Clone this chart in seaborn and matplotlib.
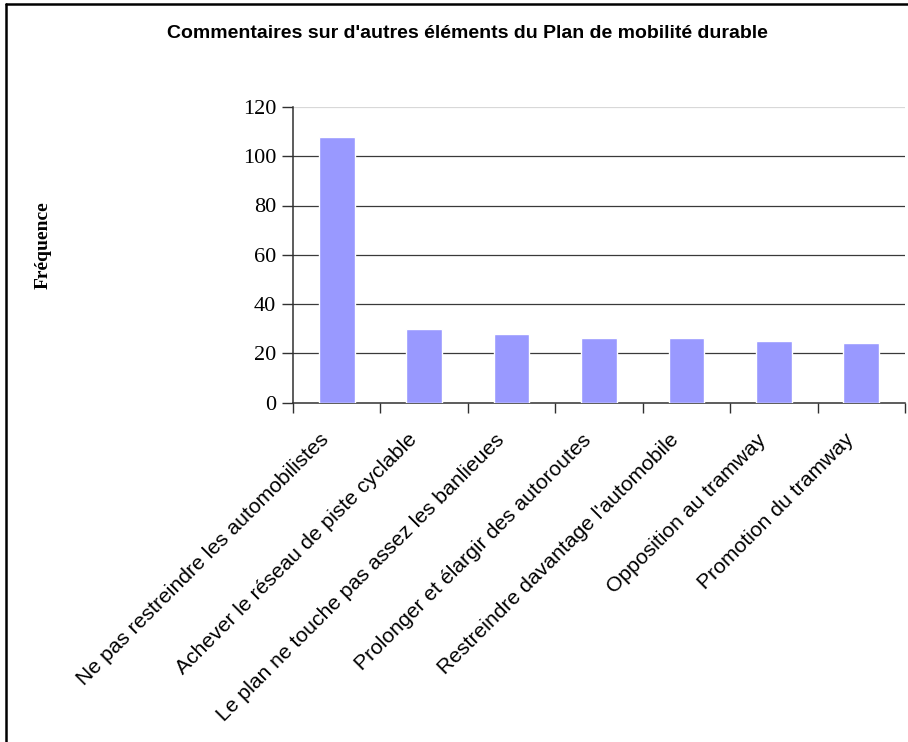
import matplotlib
matplotlib.use("Agg")
import matplotlib.pyplot as plt
from matplotlib.lines import Line2D
import seaborn as sns
import pandas as pd

# Categories of comments and how often each one came up
categories = [
    "Ne pas restreindre les automobilistes",
    "Achever le réseau de piste cyclable",
    "Le plan ne touche pas assez les banlieues",
    "Prolonger et élargir des autoroutes",
    "Restreindre davantage l'automobile",
    "Opposition au tramway",
    "Promotion du tramway",
]
frequencies = [108, 30, 28, 26, 26, 25, 24]
y_ticks = [0, 20, 40, 60, 80, 100, 120]

title = "Commentaires sur d'autres éléments du Plan de mobilité durable"
y_label = "Fréquence"

df = pd.DataFrame({"categorie": categories, "frequence": frequencies})

sns.set_theme(style="white")
plt.rcParams["font.family"] = ["Liberation Sans", "DejaVu Sans"]
plt.rcParams["text.color"] = "black"
plt.rcParams["ytick.color"] = "black"
plt.rcParams["xtick.color"] = "black"

W, H = 908, 742
fig = plt.figure(figsize=(W / 100, H / 100), dpi=100)
fig.patch.set_facecolor("white")

ax = fig.add_axes([293 / W, 1 - 402.5 / H, (905 - 293) / W, (402.5 - 107) / H])

sns.barplot(data=df, x="categorie", y="frequence", color="#9999FF",
            saturation=1, width=0.41, errorbar=None, ax=ax, zorder=3)

ax.set_ylim(0, 120)
ax.set_xlim(-0.5, len(categories) - 0.5)
ax.set_yticks(y_ticks)
ax.set_yticklabels([str(v) for v in y_ticks],
                   fontfamily=["Liberation Serif"], fontsize=16,
                   color="black")

# Horizontal gridlines
for v in y_ticks[1:-1]:
    ax.axhline(v, color="#3a3a3a", lw=0.9, zorder=1)
ax.axhline(120, color="#d8d8d8", lw=0.9, zorder=1)

# Ticks on category boundaries
ax.set_xticks([i - 0.5 for i in range(len(categories) + 1)], minor=False)
ax.set_xticklabels([])
ax.tick_params(axis="x", which="major", direction="out", length=7,
               width=1, color="#303030", bottom=True)
ax.tick_params(axis="y", direction="out", length=8, width=1,
               color="#303030", left=True, pad=4)

for i, lab in enumerate(categories):
    ax.text(i - 0.12, -14, lab, rotation=45, rotation_mode="anchor",
            ha="right", va="center", fontsize=15.2,
            fontfamily=["Liberation Sans"], color="black",
            transform=ax.transData, clip_on=False)

for side in ["top", "right"]:
    ax.spines[side].set_visible(False)
for side in ["left", "bottom"]:
    ax.spines[side].set_color("#303030")
    ax.spines[side].set_linewidth(1.1)

ax.set_xlabel("")
ax.set_ylabel("")

fig.text(467 / W, 1 - 34 / H, title, ha="center", va="center",
         fontsize=14, fontweight="bold", fontfamily=["Liberation Sans"],
         color="black")
fig.text(43 / W, 1 - 245 / H, y_label, rotation=90, ha="center",
         va="center", fontsize=14, fontweight="bold",
         fontfamily=["Liberation Serif"], color="black")

# Outer chart frame (top and left edges)
fig.add_artist(Line2D([5.5 / W, 1], [1 - 4 / H, 1 - 4 / H], color="black",
                      lw=1.8, transform=fig.transFigure))
fig.add_artist(Line2D([5.5 / W, 5.5 / W], [0, 1 - 4 / H], color="black",
                      lw=1.8, transform=fig.transFigure))

fig.savefig("out.png", dpi=100, facecolor="white")
